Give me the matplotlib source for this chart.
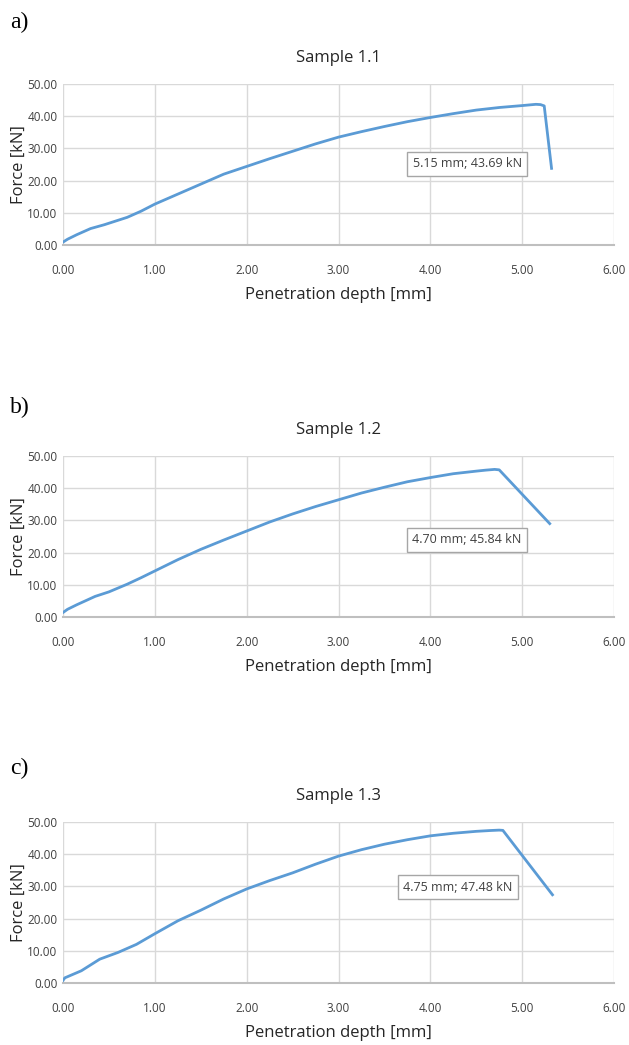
import matplotlib
matplotlib.use("Agg")
import matplotlib.pyplot as plt

# Force vs penetration depth for the three samples
a_x = [0.00, 0.05, 0.15, 0.30, 0.45, 0.70, 0.85, 1.00, 1.25, 1.50, 1.75, 2.00, 2.25,
       2.50, 2.75, 3.00, 3.25, 3.50, 3.75, 4.00, 4.25, 4.50, 4.75, 5.00, 5.15, 5.20,
       5.24, 5.32]
a_y = [0.9, 1.8, 3.2, 5.1, 6.3, 8.6, 10.5, 12.7, 15.8, 18.9, 22.0, 24.4, 26.8,
       29.1, 31.4, 33.5, 35.2, 36.8, 38.3, 39.6, 40.8, 41.9, 42.7, 43.3, 43.69, 43.6,
       43.2, 23.8]

b_x = [0.00, 0.05, 0.15, 0.35, 0.50, 0.70, 0.85, 1.00, 1.25, 1.50, 1.75, 2.00, 2.25,
       2.50, 2.75, 3.00, 3.25, 3.50, 3.75, 4.00, 4.25, 4.50, 4.60, 4.70, 4.75, 5.30]
b_y = [1.4, 2.4, 3.8, 6.4, 7.8, 10.2, 12.2, 14.3, 17.8, 21.0, 23.9, 26.7, 29.5,
       32.0, 34.3, 36.4, 38.5, 40.3, 42.0, 43.3, 44.5, 45.3, 45.6, 45.84, 45.7, 29.0]

c_x = [0.00, 0.02, 0.20, 0.40, 0.60, 0.80, 1.00, 1.25, 1.50, 1.75, 2.00, 2.25, 2.50,
       2.75, 3.00, 3.25, 3.50, 3.75, 4.00, 4.25, 4.50, 4.65, 4.75, 4.79, 5.33]
c_y = [0.8, 1.6, 3.8, 7.4, 9.5, 12.0, 15.3, 19.3, 22.6, 26.1, 29.2, 31.8, 34.2,
       36.9, 39.4, 41.4, 43.1, 44.5, 45.7, 46.5, 47.1, 47.35, 47.48, 47.4, 27.4]

panel_letters = ["a)", "b)", "c)"]
titles = ["Sample 1.1", "Sample 1.2", "Sample 1.3"]
peak_labels = ["5.15 mm; 43.69 kN", "4.70 mm; 45.84 kN", "4.75 mm; 47.48 kN"]
label_pos = [(4.40, 25.2), (4.40, 24.0), (4.30, 29.8)]

x_ticks = [0, 1, 2, 3, 4, 5, 6]
y_ticks = [0, 10, 20, 30, 40, 50]

plt.rcParams['font.family'] = ['Open Sans', 'DejaVu Sans']

fig = plt.figure(figsize=(6.29, 10.45), dpi=100)

bottoms = [1 - 245 / 1045, 1 - 617 / 1045, 1 - 983 / 1045]
letter_y = [1 - 22 / 1045, 1 - 407 / 1045, 1 - 768 / 1045]
height = 161 / 1045
left = 63 / 629
width = 551 / 629

series = [(a_x, a_y), (b_x, b_y), (c_x, c_y)]
text_col = '#404040'

for i, (xs, ys) in enumerate(series):
    ax = fig.add_axes([left, bottoms[i], width, height])
    ax.plot(xs, ys, color='#5b9bd5', lw=2, solid_joinstyle='round', zorder=3)
    ax.set_xlim(0, 6)
    ax.set_ylim(0, 50)
    ax.set_xticks(x_ticks)
    ax.set_yticks(y_ticks)
    ax.set_xticklabels(['%.2f' % v for v in x_ticks])
    ax.set_yticklabels(['%.2f' % v for v in y_ticks])
    ax.tick_params(length=0, labelsize=8.5, labelcolor=text_col)
    ax.tick_params(axis='x', pad=14)
    ax.tick_params(axis='y', pad=4)
    ax.grid(True, color='#d9d9d9', lw=1)
    ax.set_axisbelow(True)
    for s in ['top', 'right', 'left']:
        ax.spines[s].set_visible(False)
    ax.spines['bottom'].set_color('#bfbfbf')
    ax.spines['bottom'].set_linewidth(1.5)
    ax.set_xlabel('Penetration depth [mm]', fontsize=12, color='#262626', labelpad=7)
    ax.set_ylabel('Force [kN]', fontsize=12, color='#262626', labelpad=0)
    ax.set_title(titles[i], fontsize=12, color='#262626', pad=16)
    ax.text(label_pos[i][0], label_pos[i][1], peak_labels[i], fontsize=9,
            color=text_col, ha='center', va='center', zorder=4,
            bbox=dict(boxstyle='square,pad=0.45', fc='white', ec='#a6a6a6', lw=1))
    fig.text(10 / 629, letter_y[i], panel_letters[i],
             family='Liberation Serif', fontsize=17, color='black', va='center', ha='left')

fig.savefig('out.png', dpi=100)
